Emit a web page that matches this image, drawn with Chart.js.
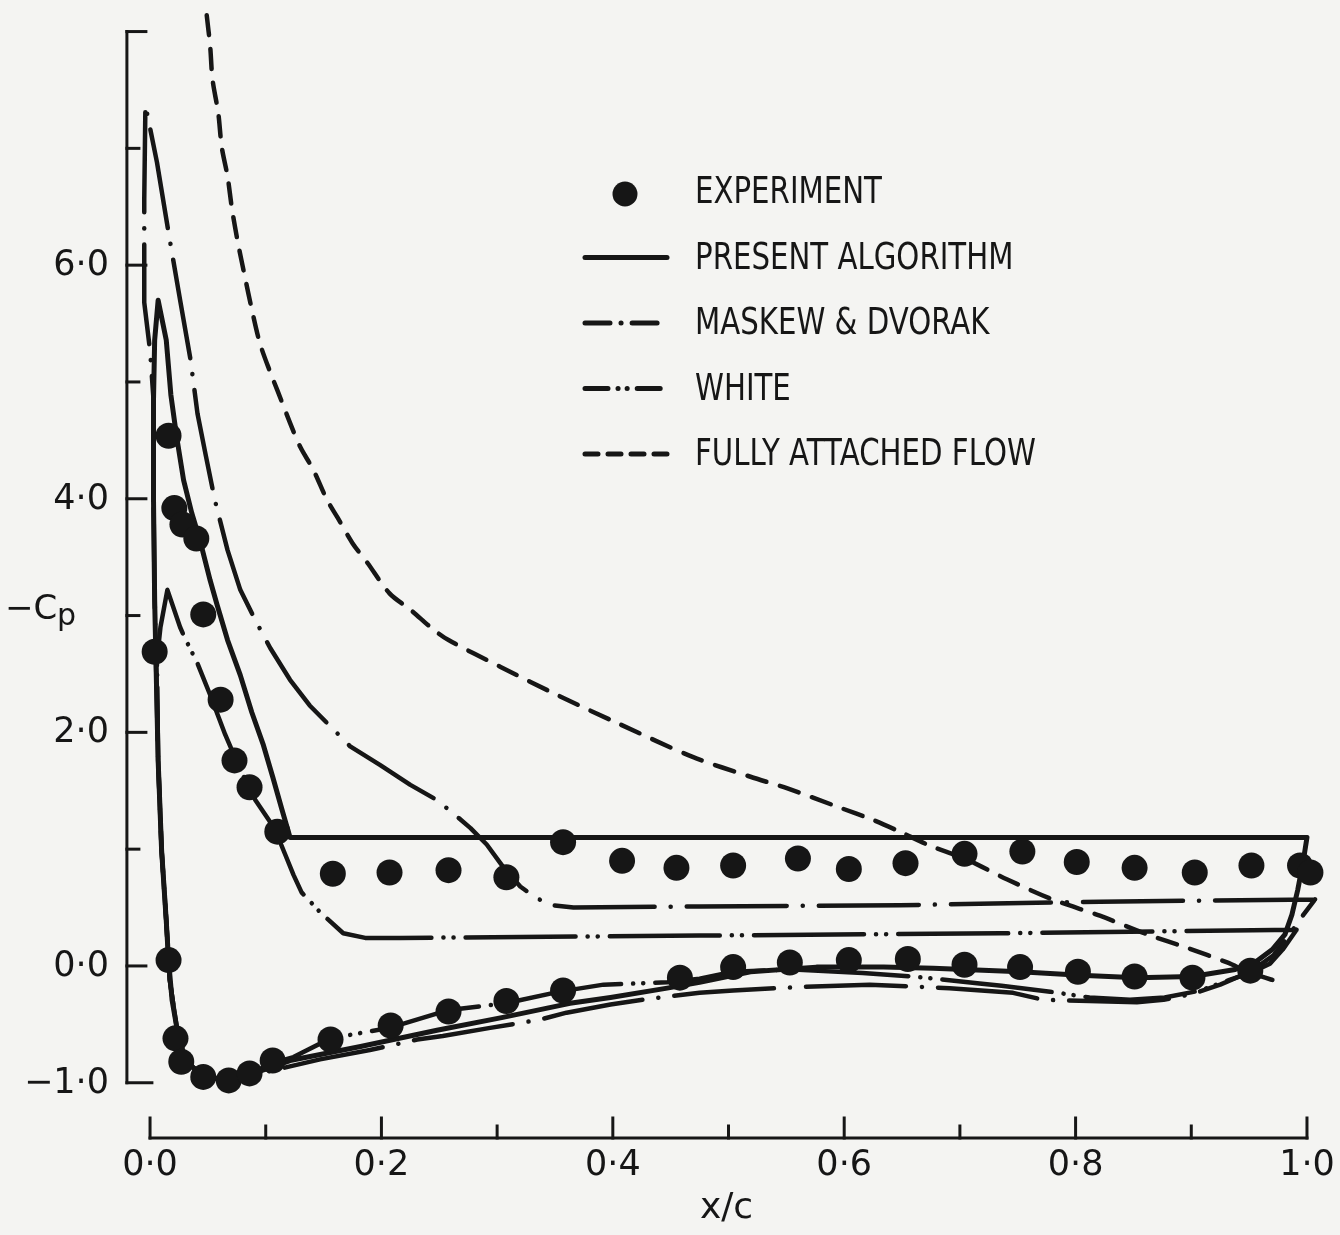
<!DOCTYPE html>
<html lang="en">
<head>
<meta charset="UTF-8">
<title>-Cp against x/c</title>
<script src="https://cdn.jsdelivr.net/npm/chart.js"></script>
<style>
    body {
        margin: 0;
        background: #f4f4f2;
    }
    canvas {
        display: block;
    }
</style>
</head>
<body>
<canvas id="cpChart" width="1340" height="1235"></canvas>
<script>
// experiment: upper surface points, then lower surface points
const expUpperX = [0.004, 0.016, 0.021, 0.028, 0.040, 0.046, 0.061, 0.073, 0.086, 0.110, 0.158, 0.207, 0.258, 0.308, 0.357,
    0.408, 0.455, 0.504, 0.560, 0.604, 0.653, 0.704, 0.754, 0.801, 0.851, 0.903, 0.952, 0.994, 1.003];
const expUpperY = [2.69, 4.54, 3.92, 3.78, 3.66, 3.01, 2.28, 1.76, 1.53, 1.15, 0.79, 0.80, 0.82, 0.76, 1.06,
    0.90, 0.84, 0.86, 0.92, 0.83, 0.88, 0.96, 0.98, 0.89, 0.84, 0.80, 0.86, 0.86, 0.80];
const expLowerX = [0.016, 0.022, 0.027, 0.046, 0.068, 0.086, 0.106, 0.156, 0.208, 0.258, 0.308, 0.357,
    0.458, 0.504, 0.553, 0.604, 0.655, 0.704, 0.752, 0.802, 0.851, 0.901, 0.951];
const expLowerY = [0.05, -0.62, -0.82, -0.95, -0.98, -0.92, -0.81, -0.63, -0.51, -0.39, -0.30, -0.21,
    -0.10, -0.01, 0.03, 0.05, 0.06, 0.01, -0.01, -0.05, -0.09, -0.10, -0.04];

// closed curves, traced from the trailing edge along the upper surface, round the nose, back along the lower surface
const presentX = [1.000, 0.121, 0.114, 0.106, 0.098, 0.088, 0.078, 0.067, 0.058, 0.052, 0.043, 0.036, 0.029, 0.023, 0.018,
    0.014, 0.007, 0.004, 0.003, 0.003, 0.004, 0.005, 0.007, 0.010, 0.014, 0.016, 0.019, 0.023, 0.028, 0.035,
    0.043, 0.056, 0.067, 0.082, 0.095, 0.110, 0.121, 0.182, 0.248, 0.305, 0.363, 0.398, 0.447, 0.475, 0.519,
    0.576, 0.634, 0.677, 0.752, 0.804, 0.853, 0.901, 0.938, 0.955, 0.970, 0.981, 0.987, 0.992, 0.997, 1.000];
const presentY = [1.10, 1.10, 1.34, 1.62, 1.89, 2.17, 2.49, 2.79, 3.09, 3.30, 3.65, 3.88, 4.16, 4.53, 4.89,
    5.36, 5.70, 5.36, 4.85, 3.99, 3.13, 2.67, 1.76, 0.99, 0.39, 0.05, -0.29, -0.52, -0.72, -0.85,
    -0.92, -0.96, -0.98, -0.95, -0.90, -0.85, -0.81, -0.69, -0.55, -0.44, -0.32, -0.27, -0.19, -0.14, -0.05,
    -0.01, -0.01, -0.02, -0.05, -0.08, -0.10, -0.09, -0.03, 0.03, 0.14, 0.27, 0.44, 0.65, 0.91, 1.10];

const maskewX = [1.007, 0.821, 0.648, 0.475, 0.366, 0.348, 0.334, 0.320, 0.305, 0.291, 0.277, 0.264, 0.248, 0.225, 0.199,
    0.173, 0.156, 0.138, 0.121, 0.104, 0.091, 0.078, 0.067, 0.056, 0.048, 0.041, 0.035, 0.026, 0.017, 0.006,
    -0.004, -0.005, -0.005, 0.000, 0.003, 0.003, 0.004, 0.007, 0.010, 0.014, 0.017, 0.023, 0.028, 0.035, 0.043,
    0.056, 0.067, 0.082, 0.095, 0.121, 0.147, 0.190, 0.231, 0.253, 0.294, 0.337, 0.360, 0.398, 0.432, 0.475,
    0.504, 0.562, 0.622, 0.691, 0.746, 0.772, 0.812, 0.853, 0.876, 0.901, 0.925, 0.951, 0.971, 0.985, 0.997, 1.007];
const maskewY = [0.57, 0.55, 0.52, 0.51, 0.50, 0.52, 0.58, 0.68, 0.85, 1.04, 1.18, 1.29, 1.42, 1.55, 1.72,
    1.88, 2.05, 2.23, 2.45, 2.72, 2.96, 3.22, 3.56, 3.99, 4.38, 4.73, 5.19, 5.70, 6.22, 6.88,
    7.37, 6.56, 5.68, 5.27, 4.85, 3.99, 3.13, 1.76, 0.99, 0.39, -0.12, -0.52, -0.72, -0.85, -0.92,
    -0.96, -0.98, -0.96, -0.92, -0.86, -0.80, -0.72, -0.63, -0.60, -0.53, -0.46, -0.40, -0.33, -0.28, -0.23,
    -0.21, -0.18, -0.16, -0.19, -0.23, -0.29, -0.30, -0.31, -0.29, -0.24, -0.16, -0.05, 0.09, 0.27, 0.44, 0.57];

const whiteX = [0.991, 0.735, 0.475, 0.216, 0.186, 0.167, 0.147, 0.131, 0.124, 0.117, 0.110, 0.104, 0.091, 0.078, 0.065,
    0.052, 0.041, 0.035, 0.030, 0.026, 0.015, 0.009, 0.006, 0.007, 0.010, 0.014, 0.017, 0.023, 0.028, 0.035,
    0.043, 0.056, 0.067, 0.082, 0.095, 0.110, 0.124, 0.156, 0.207, 0.257, 0.307, 0.354, 0.392, 0.447, 0.475,
    0.504, 0.553, 0.616, 0.659, 0.717, 0.736, 0.778, 0.812, 0.847, 0.877, 0.908, 0.933, 0.951, 0.968, 0.979, 0.991];
const whiteY = [0.31, 0.28, 0.26, 0.24, 0.24, 0.28, 0.46, 0.63, 0.78, 0.95, 1.12, 1.23, 1.42, 1.68, 1.98,
    2.32, 2.59, 2.71, 2.81, 2.90, 3.22, 2.90, 2.62, 1.76, 0.99, 0.39, -0.12, -0.52, -0.72, -0.85,
    -0.92, -0.96, -0.98, -0.95, -0.88, -0.82, -0.78, -0.62, -0.53, -0.38, -0.32, -0.22, -0.16, -0.14, -0.11,
    -0.05, -0.03, -0.06, -0.09, -0.15, -0.17, -0.22, -0.27, -0.29, -0.27, -0.21, -0.12, -0.06, 0.02, 0.14, 0.31];

// fully attached flow, upper surface only
const attachedX = [0.049, 0.052, 0.054, 0.059, 0.062, 0.067, 0.071, 0.076, 0.082, 0.088, 0.095, 0.104, 0.110, 0.121, 0.130,
    0.141, 0.153, 0.162, 0.175, 0.188, 0.207, 0.225, 0.245, 0.258, 0.303, 0.354, 0.406, 0.469, 0.519, 0.551,
    0.595, 0.625, 0.648, 0.674, 0.704, 0.741, 0.780, 0.821, 0.862, 0.895, 0.931, 0.951, 0.977];
const attachedY = [8.14, 7.87, 7.59, 7.30, 7.01, 6.76, 6.47, 6.19, 5.90, 5.62, 5.33, 5.08, 4.93, 4.65, 4.44,
    4.25, 3.99, 3.84, 3.62, 3.45, 3.19, 3.05, 2.88, 2.79, 2.56, 2.31, 2.07, 1.79, 1.62, 1.52,
    1.36, 1.25, 1.15, 1.03, 0.92, 0.74, 0.57, 0.43, 0.27, 0.16, 0.03, -0.06, -0.14];

const xTickValues = [0, 0.1, 0.2, 0.3, 0.4, 0.5, 0.6, 0.7, 0.8, 0.9, 1.0];
const xTickLabels = ['0·0', '', '0·2', '', '0·4', '', '0·6', '', '0·8', '', '1·0'];
const yTickValues = [8, 7, 6, 5, 4, 3, 2, 1, 0, -1];
const yTickLabels = ['', '', '6·0', '', '4·0', '', '2·0', '', '0·0', '−1·0'];

const ink = '#161616';
const paper = '#f4f4f2';

function pairs(xs, ys) {
    return xs.map((x, i) => ({ x: x, y: ys[i] }));
}

function curve(label, xs, ys, dash, legendDash, width, tension) {
    return {
        label: label,
        data: pairs(xs, ys),
        showLine: true,
        borderColor: ink,
        borderWidth: width,
        borderDash: dash,
        legendDash: legendDash,
        borderCapStyle: 'round',
        borderJoinStyle: 'round',
        pointRadius: 0,
        tension: tension,
        fill: false
    };
}

// axes, tick marks, titles and the key are drawn by hand, positioned through the chart's own scales
const paperAndAxes = {
    id: 'paperAndAxes',
    beforeDraw(chart) {
        const ctx = chart.ctx;
        ctx.save();
        ctx.fillStyle = paper;
        ctx.fillRect(0, 0, chart.width, chart.height);
        ctx.restore();
    },
    beforeDatasetsDraw(chart) {
        const ctx = chart.ctx;
        const xs = chart.scales.x;
        const ys = chart.scales.y;
        const left = chart.chartArea.left;
        const base = chart.chartArea.bottom;

        ctx.save();
        ctx.strokeStyle = ink;
        ctx.fillStyle = ink;
        ctx.lineWidth = 3;
        ctx.lineCap = 'square';

        // y axis
        ctx.beginPath();
        ctx.moveTo(left, ys.getPixelForValue(yTickValues[0]));
        ctx.lineTo(left, ys.getPixelForValue(yTickValues[yTickValues.length - 1]));
        ctx.stroke();
        ctx.font = '35px "DejaVu Sans"';
        ctx.textAlign = 'right';
        ctx.textBaseline = 'middle';
        yTickValues.forEach((v, i) => {
            const py = ys.getPixelForValue(v);
            let len = (yTickLabels[i] || i === 0) ? 19 : 12;
            if (i === yTickValues.length - 1) len = 25;
            ctx.beginPath();
            ctx.moveTo(left, py);
            ctx.lineTo(left + len, py);
            ctx.stroke();
            if (yTickLabels[i]) ctx.fillText(yTickLabels[i], left - 18, py + 1);
        });

        // x axis, drawn below the plot and apart from the y axis
        ctx.beginPath();
        ctx.moveTo(xs.getPixelForValue(xTickValues[0]), base);
        ctx.lineTo(xs.getPixelForValue(xTickValues[xTickValues.length - 1]), base);
        ctx.stroke();
        ctx.textAlign = 'center';
        ctx.textBaseline = 'alphabetic';
        xTickValues.forEach((v, i) => {
            const px = xs.getPixelForValue(v);
            const len = xTickLabels[i] ? 20 : 12;
            ctx.beginPath();
            ctx.moveTo(px, base);
            ctx.lineTo(px, base - len);
            ctx.stroke();
            if (xTickLabels[i]) ctx.fillText(xTickLabels[i], px, base + 37);
        });

        // axis titles
        ctx.font = '36px "DejaVu Sans"';
        ctx.fillText('x/c', xs.getPixelForValue(0.5) - 2, base + 80);
        ctx.textAlign = 'left';
        ctx.font = '34px "DejaVu Sans"';
        ctx.fillText('−C', 5, ys.getPixelForValue(3.0) + 3);
        ctx.font = '30px "DejaVu Sans"';
        ctx.fillText('p', 57, ys.getPixelForValue(3.0) + 9);
        ctx.restore();
    },
    afterDatasetsDraw(chart) {
        const ctx = chart.ctx;
        const sets = chart.data.datasets;
        const sampleLeft = 585, sampleRight = 667, textLeft = 695;
        ctx.save();
        ctx.fillStyle = ink;
        ctx.strokeStyle = ink;
        ctx.font = '37px "DejaVu Sans"';
        ctx.textBaseline = 'alphabetic';
        ctx.textAlign = 'left';
        sets.forEach((ds, i) => {
            const baseline = 203 + 65.5 * i;
            const cy = baseline - 11;
            if (ds.showLine) {
                ctx.beginPath();
                ctx.lineWidth = 5;
                ctx.lineCap = 'round';
                ctx.setLineDash(ds.legendDash);
                ctx.moveTo(sampleLeft, cy);
                ctx.lineTo(sampleRight, cy);
                ctx.stroke();
                ctx.setLineDash([]);
            } else {
                ctx.beginPath();
                ctx.arc(625, cy + 2, 12.5, 0, Math.PI * 2);
                ctx.fill();
            }
            ctx.save();
            ctx.translate(textLeft, baseline);
            ctx.scale(0.79, 1);
            ctx.fillText(ds.label, 0, 0);
            ctx.restore();
        });
        ctx.restore();
    }
};

const ctx = document.getElementById('cpChart').getContext('2d');
new Chart(ctx, {
    type: 'scatter',
    data: {
        datasets: [
            {
                label: 'EXPERIMENT',
                data: pairs(expUpperX, expUpperY).concat(pairs(expLowerX, expLowerY)),
                showLine: false,
                backgroundColor: ink,
                borderWidth: 0,
                pointRadius: 13,
                pointHoverRadius: 13
            },
            curve('PRESENT ALGORITHM', presentX, presentY, [], [], 5, 0),
            curve('MASKEW & DVORAK', maskewX, maskewY, [100, 16, 0.1, 16], [25, 11, 0.1, 11], 4.5, 0),
            curve('WHITE', whiteX, whiteY, [110, 12, 0.1, 10, 0.1, 12], [23, 10, 0.1, 9, 0.1, 10], 4.5, 0),
            curve('FULLY ATTACHED FLOW', attachedX, attachedY, [20, 14], [13, 10], 4.5, 0.3)
        ]
    },
    options: {
        responsive: false,
        animation: false,
        events: [],
        layout: {
            autoPadding: false,
            padding: { left: 126.9, right: 4.1, top: 8.2, bottom: 97 }
        },
        scales: {
            x: { type: 'linear', min: -0.02, max: 1.025, display: false },
            y: { type: 'linear', min: -1.473, max: 8.2, display: false }
        },
        plugins: {
            legend: { display: false },
            tooltip: { enabled: false }
        }
    },
    plugins: [paperAndAxes]
});
</script>
</body>
</html>
